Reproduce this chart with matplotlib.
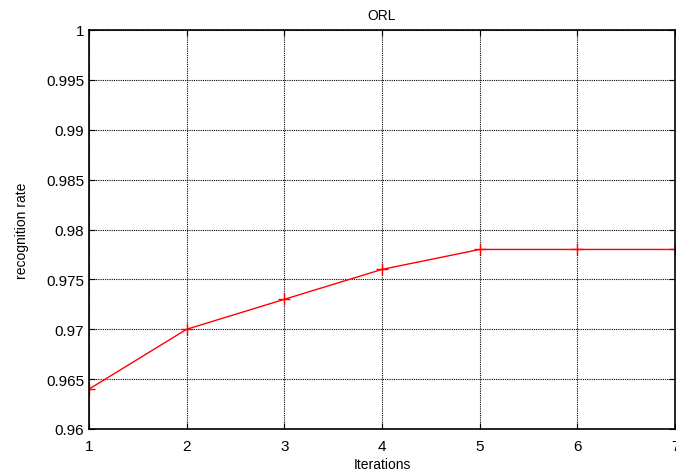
import matplotlib.pyplot as plt

iterations = [1, 2, 3, 4, 5, 6, 7]
recognition_rate = [0.964, 0.970, 0.973, 0.976, 0.978, 0.978, 0.978]
y_ticks = [0.96, 0.965, 0.97, 0.975, 0.98, 0.985, 0.99, 0.995, 1.0]

plt.rcParams['font.family'] = ['Liberation Sans', 'DejaVu Sans']

fig = plt.figure(figsize=(6.76, 4.77), dpi=100)
ax = fig.add_axes([89 / 676, 1 - 430 / 477, 586 / 676, 399 / 477])

ax.plot(iterations, recognition_rate, color='red', linewidth=1.0,
        marker='+', markersize=9, markeredgewidth=1.0)

ax.set_xlim(1, 7)
ax.set_ylim(0.96, 1.0)
ax.set_xticks(iterations)
ax.set_yticks(y_ticks)
ax.set_yticklabels(['%g' % v for v in y_ticks])

ax.grid(True, color='black', linestyle=(0, (1, 1)), linewidth=0.8)
ax.tick_params(direction='in', top=True, right=True, length=4,
               labelsize=11, width=0.8)
ax.tick_params(axis='x', pad=7)
for s in ax.spines.values():
    s.set_linewidth(1.2)

ax.set_title('ORL', fontsize=10, pad=8)
ax.set_xlabel('Iterations', fontsize=10, labelpad=3)
ax.set_ylabel('recognition rate', fontsize=10, labelpad=12)

fig.savefig('out.png', dpi=100)
